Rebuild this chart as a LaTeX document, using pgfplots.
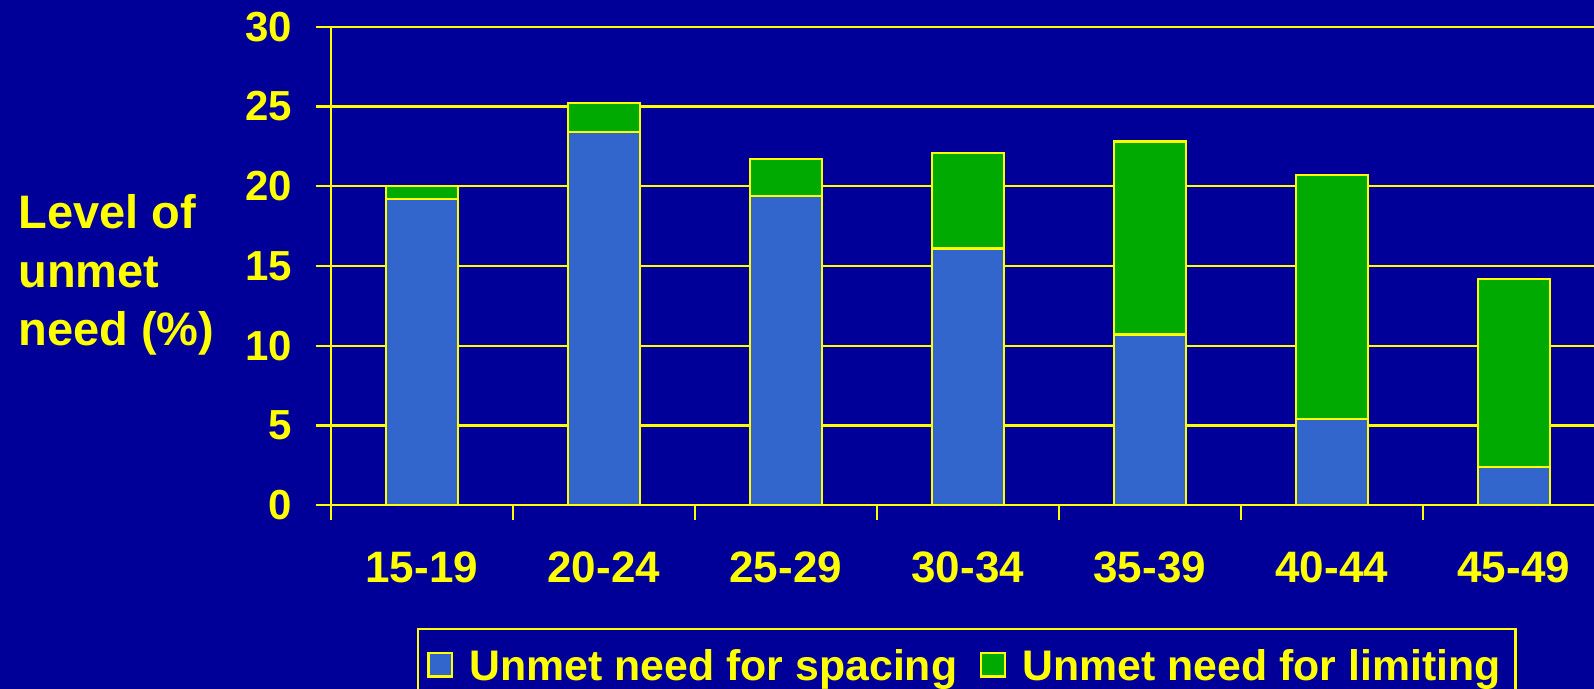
\documentclass[border=0pt]{standalone}
\usepackage{fontspec}
\setmainfont{Liberation Sans}
\usepackage{pgfplots}
\usepackage{pgfplotstable}
\pgfplotsset{compat=1.18}
\definecolor{bg}{HTML}{000099}
\definecolor{barblue}{HTML}{3366CC}
\definecolor{bargreen}{HTML}{00AA00}
\definecolor{yel}{HTML}{FFFF00}
\pgfplotstableread{
x spacing limiting
0 19.2 0.8
1 23.4 1.8
2 19.4 2.3
3 16.1 6.0
4 10.7 12.1
5 5.4 15.3
6 2.4 11.8
}\datatable
\begin{document}
\begin{tikzpicture}
\fill[bg] (0,0) rectangle (797pt,344.5pt);
\node[anchor=north west, inner sep=0pt, align=left, text=yel,
      font=\fontsize{23.5}{29.3}\selectfont\bfseries] at (9pt,247.5pt)
      {Level of\\unmet\\need (\%)};
\begin{axis}[
  at={(165.35pt,91.85pt)}, anchor=south west,
  scale only axis, width=631.65pt, height=239.3pt,
  xmin=-0.5, xmax=6.441, ymin=0, ymax=30,
  ybar stacked, bar width=36pt,
  axis x line*=bottom, axis y line*=left,
  axis line style={yel, line width=1.2pt},
  xtick={-0.5,0.5,...,5.5}, xticklabels={},
  extra x ticks={0,1,2,3,4,5,6},
  extra x tick labels={15-19,20-24,25-29,30-34,35-39,40-44,45-49},
  extra x tick style={major tick length=0pt, grid=none,
     xticklabel style={font=\fontsize{22}{26}\selectfont\bfseries, text=yel,
        anchor=north, inner sep=0pt, yshift=-23.2pt}},
  ytick={0,5,...,30},
  yticklabel style={font=\fontsize{21}{25}\selectfont\bfseries, text=yel,
        anchor=east, inner sep=0pt, xshift=-11.5pt},
  /pgf/number format/assume math mode=true,
  ymajorgrids, grid style={yel, line width=1.1pt},
  tick align=outside,
  major tick length=7.5pt,
  tick style={yel, line width=1.1pt},
  legend style={at={(axis description cs:0.0683,-0.2564)}, anchor=north west,
     draw=yel, line width=1.2pt, fill=bg, text=yel,
     font=\fontsize{21.4}{26}\selectfont\bfseries,
     inner xsep=4.5pt, inner ysep=10.3pt,
     nodes={inner sep=0pt},
     /tikz/every odd column/.append style={column sep=8.3pt},
     /tikz/every even column/.append style={column sep=11.3pt}},
  legend columns=2,
  legend image code/.code={%
     \draw[#1, line width=1.2pt] (0.6pt,-4.9pt) rectangle (12.4pt,6.9pt);},
]
\addplot[fill=barblue, draw=yel, line width=1.2pt] table[x=x, y=spacing] {\datatable};
\addplot[fill=bargreen, draw=yel, line width=1.2pt] table[x=x, y=limiting] {\datatable};
\legend{Unmet need for spacing, Unmet need for limiting\hspace*{3pt}}
\end{axis}
\pgfresetboundingbox
\path[use as bounding box] (0,0) rectangle (797pt,344.5pt);
\end{tikzpicture}
\end{document}
